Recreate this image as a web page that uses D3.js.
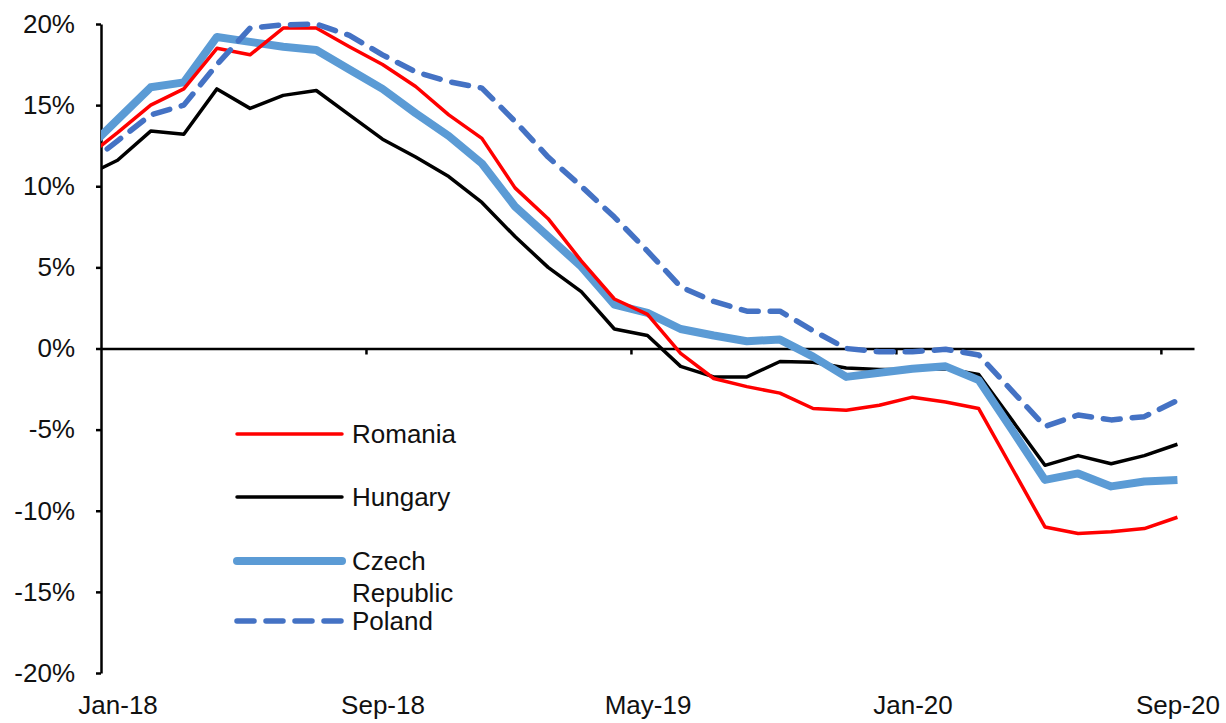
<!DOCTYPE html>
<html>
<head>
<meta charset="utf-8">
<script src="https://cdn.jsdelivr.net/npm/d3@7"></script>
<style>
  html, body { margin: 0; padding: 0; background: #fff; }
  svg { display: block; font-family: "Liberation Sans", Arial, sans-serif; }
  .axis text { font-size: 26px; fill: #111; }
  .legend text { font-size: 26px; fill: #111; }
</style>
</head>
<body>
<svg id="chart" width="1226" height="723"></svg>
<script>
// monthly categories, Dec-17 is the point just left of the axis (clipped like in excel)
const months = d3.timeMonth.range(new Date(2017, 11, 1), new Date(2020, 9, 1));
const labelMonths = ["Jan-18", "Sep-18", "May-19", "Jan-20", "Sep-20"];
const yTicks = [-20, -15, -10, -5, 0, 5, 10, 15, 20];

const romania = [11.7, 13.3, 15.0, 16.0, 18.5, 18.1, 19.75, 19.75, 18.6, 17.5, 16.15, 14.4, 12.95,
  9.9, 8.0, 5.4, 3.05, 2.1, -0.3, -1.85, -2.35, -2.75, -3.7, -3.8, -3.5,
  -3.0, -3.3, -3.7, -7.35, -11.0, -11.4, -11.3, -11.1, -10.4];
const hungary = [10.6, 11.6, 13.4, 13.2, 16.0, 14.8, 15.6, 15.9, 14.4, 12.9, 11.8, 10.6, 9.0,
  6.9, 5.0, 3.5, 1.2, 0.8, -1.1, -1.75, -1.75, -0.8, -0.85, -1.2, -1.3,
  -1.3, -1.25, -1.6, -4.4, -7.2, -6.6, -7.1, -6.6, -5.9];
const czech = [12.1, 14.1, 16.1, 16.4, 19.2, 18.9, 18.6, 18.4, 17.2, 16.0, 14.5, 13.1, 11.4,
  8.75, 6.9, 5.05, 2.7, 2.2, 1.2, 0.8, 0.45, 0.55, -0.5, -1.75, -1.5,
  -1.25, -1.1, -1.95, -5.0, -8.1, -7.7, -8.5, -8.2, -8.1];
const poland = [11.2, 12.8, 14.4, 15.0, 17.5, 19.75, 19.95, 20.0, 19.3, 18.1, 17.05, 16.45, 16.05,
  14.0, 11.8, 10.0, 8.1, 6.0, 3.8, 2.9, 2.3, 2.3, 1.1, 0.0, -0.2,
  -0.2, -0.05, -0.4, -2.6, -4.8, -4.1, -4.4, -4.2, -3.2];

const series = [
  { name: "Hungary", values: hungary, color: "#000000", width: 3.5, dash: null, legendY: 497 },
  { name: "Czech Republic", values: czech, color: "#5B9BD5", width: 8, dash: null, legendY: 561 },
  { name: "Romania", values: romania, color: "#FF0000", width: 3.5, dash: null, legendY: 434 },
  { name: "Poland", values: poland, color: "#4472C4", width: 5.5, dash: "17,12", legendY: 621 }
];

const svg = d3.select("#chart");
const fmt = d3.timeFormat("%b-%y");

// category index: Jan-18 = 0 ... Sep-20 = 32
const idx = (d) => d3.timeMonth.count(new Date(2018, 0, 1), d);
const x = d3.scaleLinear().domain([-0.5, 32.5]).range([101, 1194]);
const y = d3.scaleLinear().domain([-20, 20]).range([673, 24]);

svg.append("defs").append("clipPath").attr("id", "plot")
  .append("rect").attr("x", x(-0.5)).attr("y", 0).attr("width", x(32.5) - x(-0.5)).attr("height", 723);

// y axis
const yAxis = svg.append("g")
  .attr("class", "axis")
  .attr("transform", `translate(${x(-0.5)},0)`)
  .call(d3.axisLeft(y).tickValues(yTicks).tickSizeInner(5).tickSizeOuter(0).tickPadding(21)
    .tickFormat(d => d + "%"));
yAxis.selectAll("path, line").attr("stroke", "#000").attr("stroke-width", 2.5);

// x axis line at 0 with ticks between categories
const xAxis = svg.append("g")
  .attr("class", "axis")
  .attr("transform", `translate(0,${y(0)})`)
  .call(d3.axisBottom(x).tickValues([7.5, 15.5, 23.5, 31.5]).tickSizeInner(6).tickSizeOuter(0).tickFormat(""));
xAxis.selectAll("path, line").attr("stroke", "#000").attr("stroke-width", 2.5);

// x labels at the bottom
const labelIdx = months.filter(m => labelMonths.includes(fmt(m))).map(idx);
const xLab = svg.append("g")
  .attr("class", "axis")
  .attr("transform", "translate(0,696)")
  .call(d3.axisBottom(x).tickValues(labelIdx).tickSize(0).tickPadding(0)
    .tickFormat(i => fmt(d3.timeMonth.offset(new Date(2018, 0, 1), i))));
xLab.select(".domain").remove();

// series lines
const line = d3.line()
  .x((d, i) => x(idx(months[i])))
  .y(d => y(d));

const lines = svg.append("g").attr("clip-path", "url(#plot)");
series.forEach(s => {
  lines.append("path")
    .datum(s.values)
    .attr("fill", "none")
    .attr("stroke", s.color)
    .attr("stroke-width", s.width)
    .attr("stroke-linejoin", "round")
    .attr("stroke-linecap", s.dash ? "round" : "butt")
    .attr("stroke-dasharray", s.dash)
    .attr("d", line);
});

// legend
const legend = svg.append("g").attr("class", "legend");
series.forEach(s => {
  legend.append("line")
    .attr("x1", 237).attr("x2", 342)
    .attr("y1", s.legendY).attr("y2", s.legendY)
    .attr("stroke", s.color)
    .attr("stroke-width", s.width)
    .attr("stroke-linecap", "round")
    .attr("stroke-dasharray", s.dash);
  const words = s.name === "Czech Republic" ? ["Czech", "Republic"] : [s.name];
  const t = legend.append("text")
    .attr("x", 352)
    .attr("y", s.legendY + 9);
  words.forEach((w, k) => {
    t.append("tspan").attr("x", 352).attr("dy", k === 0 ? 0 : 32).text(w);
  });
});
</script>
</body>
</html>
